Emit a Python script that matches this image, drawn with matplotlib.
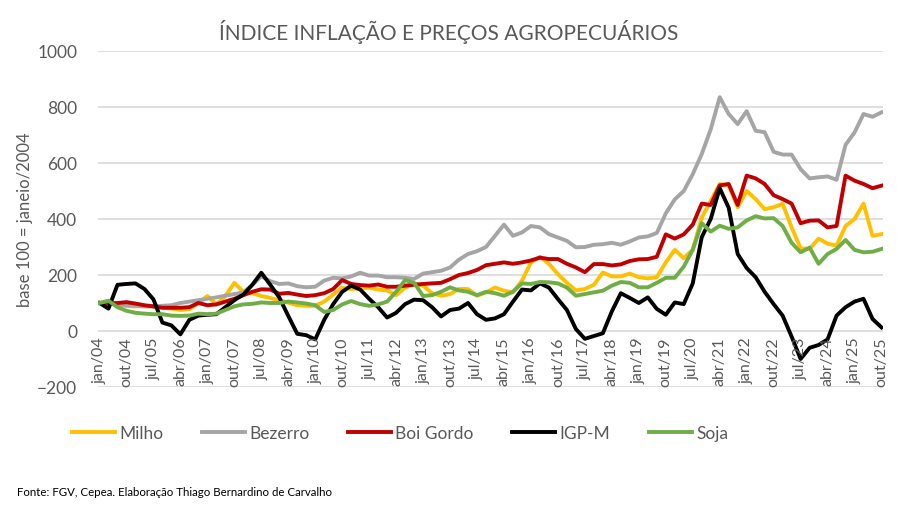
import numpy as np
import matplotlib
matplotlib.use("Agg")
import matplotlib.pyplot as plt

plt.rcParams['font.family'] = ['Lato', 'DejaVu Sans']

# quarterly readings, jan/04 .. out/25 (month index 0, 3, ..., 261)
months = np.arange(0, 262, 3)

milho = [100, 107, 95, 89, 88, 89, 87, 83, 80, 75, 78, 100, 125, 95, 125, 172, 140, 135,
         125, 118, 110, 101, 92, 90, 90, 105, 130, 155, 150, 152, 155, 148, 145, 128, 155,
         170, 162, 135, 126, 132, 150, 150, 126, 138, 155, 144, 138, 180, 245, 265, 240,
         203, 172, 145, 150, 165, 209, 195, 195, 205, 192, 188, 192, 245, 290, 260, 290,
         405, 465, 525, 520, 442, 500, 471, 435, 442, 454, 370, 295, 293, 330, 312, 305,
         375, 400, 455, 340, 346]

bezerro = [100, 98, 95, 92, 90, 88, 88, 90, 92, 100, 105, 110, 115, 120, 126, 132, 138, 165,
           195, 178, 168, 170, 160, 156, 158, 180, 190, 188, 195, 208, 198, 198, 192, 192, 190,
           186, 205, 210, 215, 227, 255, 275, 285, 300, 340, 380, 340, 352, 375, 370, 346,
           334, 322, 299, 300, 308, 310, 315, 308, 320, 334, 338, 350, 420, 470, 500, 560,
           632, 720, 835, 775, 739, 785, 715, 710, 640, 630, 630, 578, 545, 549, 552, 540,
           665, 709, 775, 765, 781]

boi_gordo = [100, 98, 100, 103, 98, 92, 88, 83, 83, 83, 85, 100, 92, 95, 105, 115, 128, 140,
             149, 148, 133, 136, 130, 125, 128, 135, 150, 182, 168, 164, 162, 166, 158, 158, 162,
             165, 168, 170, 172, 185, 200, 207, 218, 235, 240, 245, 240, 245, 252, 262, 257,
             257, 240, 227, 210, 239, 239, 234, 238, 250, 256, 257, 265, 345, 330, 345, 380,
             455, 450, 520, 525, 450, 555, 545, 525, 485, 471, 455, 385, 394, 395, 370, 375,
             555, 537, 525, 510, 519]

igpm = [100, 80, 165, 168, 170, 150, 113, 30, 20, -12, 40, 55, 58, 60, 85, 110, 130, 165,
        208, 165, 120, 54, -10, -15, -30, 40, 96, 140, 162, 148, 115, 85, 48, 65, 96,
        112, 110, 85, 52, 75, 80, 100, 60, 40, 45, 60, 105, 148, 145, 170, 155,
        114, 75, 7, -28, -18, -8, 70, 135, 118, 100, 120, 79, 58, 102, 96, 170,
        335, 400, 510, 440, 275, 225, 192, 140, 96, 55, -20, -100, -60, -50, -30, 55,
        85, 105, 115, 43, 13]

soja = [100, 108, 85, 72, 65, 62, 60, 60, 55, 54, 55, 62, 60, 62, 75, 88, 95, 97,
        102, 100, 100, 105, 102, 98, 92, 68, 75, 95, 107, 96, 90, 95, 105, 140, 182,
        172, 125, 128, 140, 156, 145, 140, 128, 140, 135, 126, 140, 170, 168, 175, 174,
        170, 155, 126, 132, 138, 144, 162, 175, 172, 156, 156, 172, 190, 190, 230, 290,
        385, 355, 376, 365, 370, 395, 410, 402, 403, 375, 315, 281, 298, 240, 275, 293,
        325, 290, 281, 283, 293]

series = [("Milho", milho, "#FFC000"),
          ("Bezerro", bezerro, "#A5A5A5"),
          ("Boi Gordo", boi_gordo, "#C00000"),
          ("IGP-M", igpm, "#000000"),
          ("Soja", soja, "#70AD47")]

tick_months = np.arange(0, 262, 9)
tick_labels = ["jan/04", "out/04", "jul/05", "abr/06", "jan/07", "out/07", "jul/08", "abr/09",
               "jan/10", "out/10", "jul/11", "abr/12", "jan/13", "out/13", "jul/14", "abr/15",
               "jan/16", "out/16", "jul/17", "abr/18", "jan/19", "out/19", "jul/20", "abr/21",
               "jan/22", "out/22", "jul/23", "abr/24", "jan/25", "out/25"]

grey_txt = "#595959"

fig = plt.figure(figsize=(8.97, 5.06), dpi=100)
ax = fig.add_axes([98 / 897, 1 - 388 / 506, (883 - 98) / 897, (388 - 52) / 506])

for name, vals, col in series:
    ax.plot(months, vals, color=col, lw=2.8, label=name, solid_joinstyle='round')

ax.set_xlim(-0.5, 261.5)
ax.set_ylim(-200, 1000)
ax.set_yticks(np.arange(-200, 1001, 200))
ax.yaxis.grid(True, color="#D9D9D9", lw=1.2)
ax.set_axisbelow(True)
ax.set_xticks([])
for s in ax.spines.values():
    s.set_visible(False)
ax.tick_params(axis='y', length=0, pad=15, labelsize=12.5, labelcolor=grey_txt)

# category labels sit just under the zero line
for m, lab in zip(tick_months, tick_labels):
    ax.text(m, -20, lab, rotation=90, ha='center', va='top', fontsize=11.5, color=grey_txt)

fig.text(0.5, 1 - 32 / 506, "ÍNDICE INFLAÇÃO E PREÇOS AGROPECUÁRIOS", ha='center', va='center',
         fontsize=15, color=grey_txt)
fig.text(25 / 897, 1 - 220 / 506, "base 100 = janeio/2004", rotation=90, ha='center', va='center',
         fontsize=12, color=grey_txt)

fig.legend(loc='center', bbox_to_anchor=(400 / 897, 1 - 434 / 506), ncol=5, frameon=False,
           fontsize=12.5, handlelength=2.5, handletextpad=0.25, columnspacing=2.2,
           labelcolor=grey_txt)

fig.text(17 / 897, 1 - 493 / 506, "Fonte: FGV, Cepea. Elaboração Thiago Bernardino de Carvalho",
         ha='left', va='center', fontsize=8.3, color='black')

fig.savefig("out.png", dpi=100, facecolor='white')
